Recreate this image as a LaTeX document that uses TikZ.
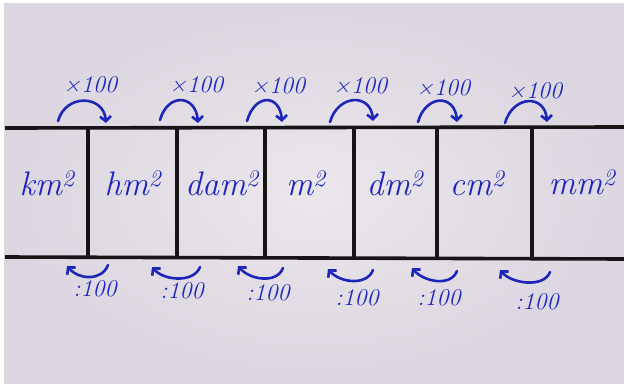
\documentclass[tikz,border=0pt]{standalone}
\usetikzlibrary{arrows.meta,calc}
\definecolor{boardout}{RGB}{220,214,224}
\definecolor{boardin}{RGB}{235,231,236}
\definecolor{ink}{RGB}{28,38,185}
\definecolor{lineblack}{RGB}{22,20,22}
\begin{document}
\begin{tikzpicture}[x=1pt,y=-1pt,
  unit/.style={font=\fontsize{34}{34}\selectfont\itshape, text=ink, inner sep=0pt},
  factor/.style={font=\fontsize{24}{24}\selectfont\itshape, text=ink, inner sep=0pt},
  conv/.style={draw=ink, line width=2.6pt, line cap=round, line join=round,
    -{Straight Barb[length=5pt,width=11pt,line width=2.6pt]}},
  rule/.style={draw=lineblack, line width=3.6pt}]
\fill[white] (0,0) rectangle (624,383);
\shade[inner color=boardin, outer color=boardout] (4,3) rectangle (624,383);
\useasboundingbox (0,0) rectangle (624,383);

% horizontal rules
\coordinate (tl) at (5,128);
\coordinate (tr) at (624,127);
\coordinate (bl) at (5,257);
\coordinate (br) at (624,259);
\draw[rule] (tl) -- (tr);
\draw[rule] (bl) -- (br);

% dividers
\foreach \i/\x in {1/88,2/177,3/265,4/354,5/437,6/532}{
  \coordinate (d\i t) at (\x,128);
  \coordinate (d\i b) at (\x,258);
  \draw[rule] (d\i t) -- (d\i b);
}

% unit labels
\node[unit] (km) at (47,183) {km\textsuperscript{2}};
\node[unit] (hm) at (133,183) {hm\textsuperscript{2}};
\node[unit] (dam) at (222,183) {dam\textsuperscript{2}};
\node[unit] (m) at (306,183) {m\textsuperscript{2}};
\node[unit] (dm) at (395,183) {dm\textsuperscript{2}};
\node[unit] (cm) at (477,183) {cm\textsuperscript{2}};
\node[unit] (mm) at (582,182) {mm\textsuperscript{2}};

% top arrows (x100)
\foreach \i/\sx/\sy/\ex/\ey/\lx/\ly in {
  1/58/121/106/123/90/85,
  2/160/120/198/123/196/85,
  3/247/121/282/122/278/86,
  4/330/122/373/121/360/86,
  5/418/122/457/122/443/88,
  6/505/123/547/122/535/91}{
  \coordinate (ts\i) at (\sx,\sy);
  \coordinate (te\i) at (\ex,\ey);
  \node[factor] (tl\i) at (\lx,\ly) {\texttimes100};
  \draw[conv] (ts\i) .. controls ($(ts\i)+(8,-28)$) and ($(te\i)+(-2,-28)$) .. (te\i);
}

% bottom arrows (:100)
\foreach \i/\sx/\sy/\ex/\ey/\lx/\ly in {
  1/108/265/67/266/95/289,
  2/200/267/152/267/182/291,
  3/283/268/238/266/268/293,
  4/373/270/328/269/357/298,
  5/457/271/412/268/439/298,
  6/550/272/500/270/537/302}{
  \coordinate (bs\i) at (\sx,\sy);
  \coordinate (be\i) at (\ex,\ey);
  \node[factor] (bl\i) at (\lx,\ly) {:100};
  \draw[conv] (bs\i) .. controls ($(bs\i)+(-6,16)$) and ($(be\i)+(12,14)$) .. (be\i);
}
\end{tikzpicture}
\end{document}
